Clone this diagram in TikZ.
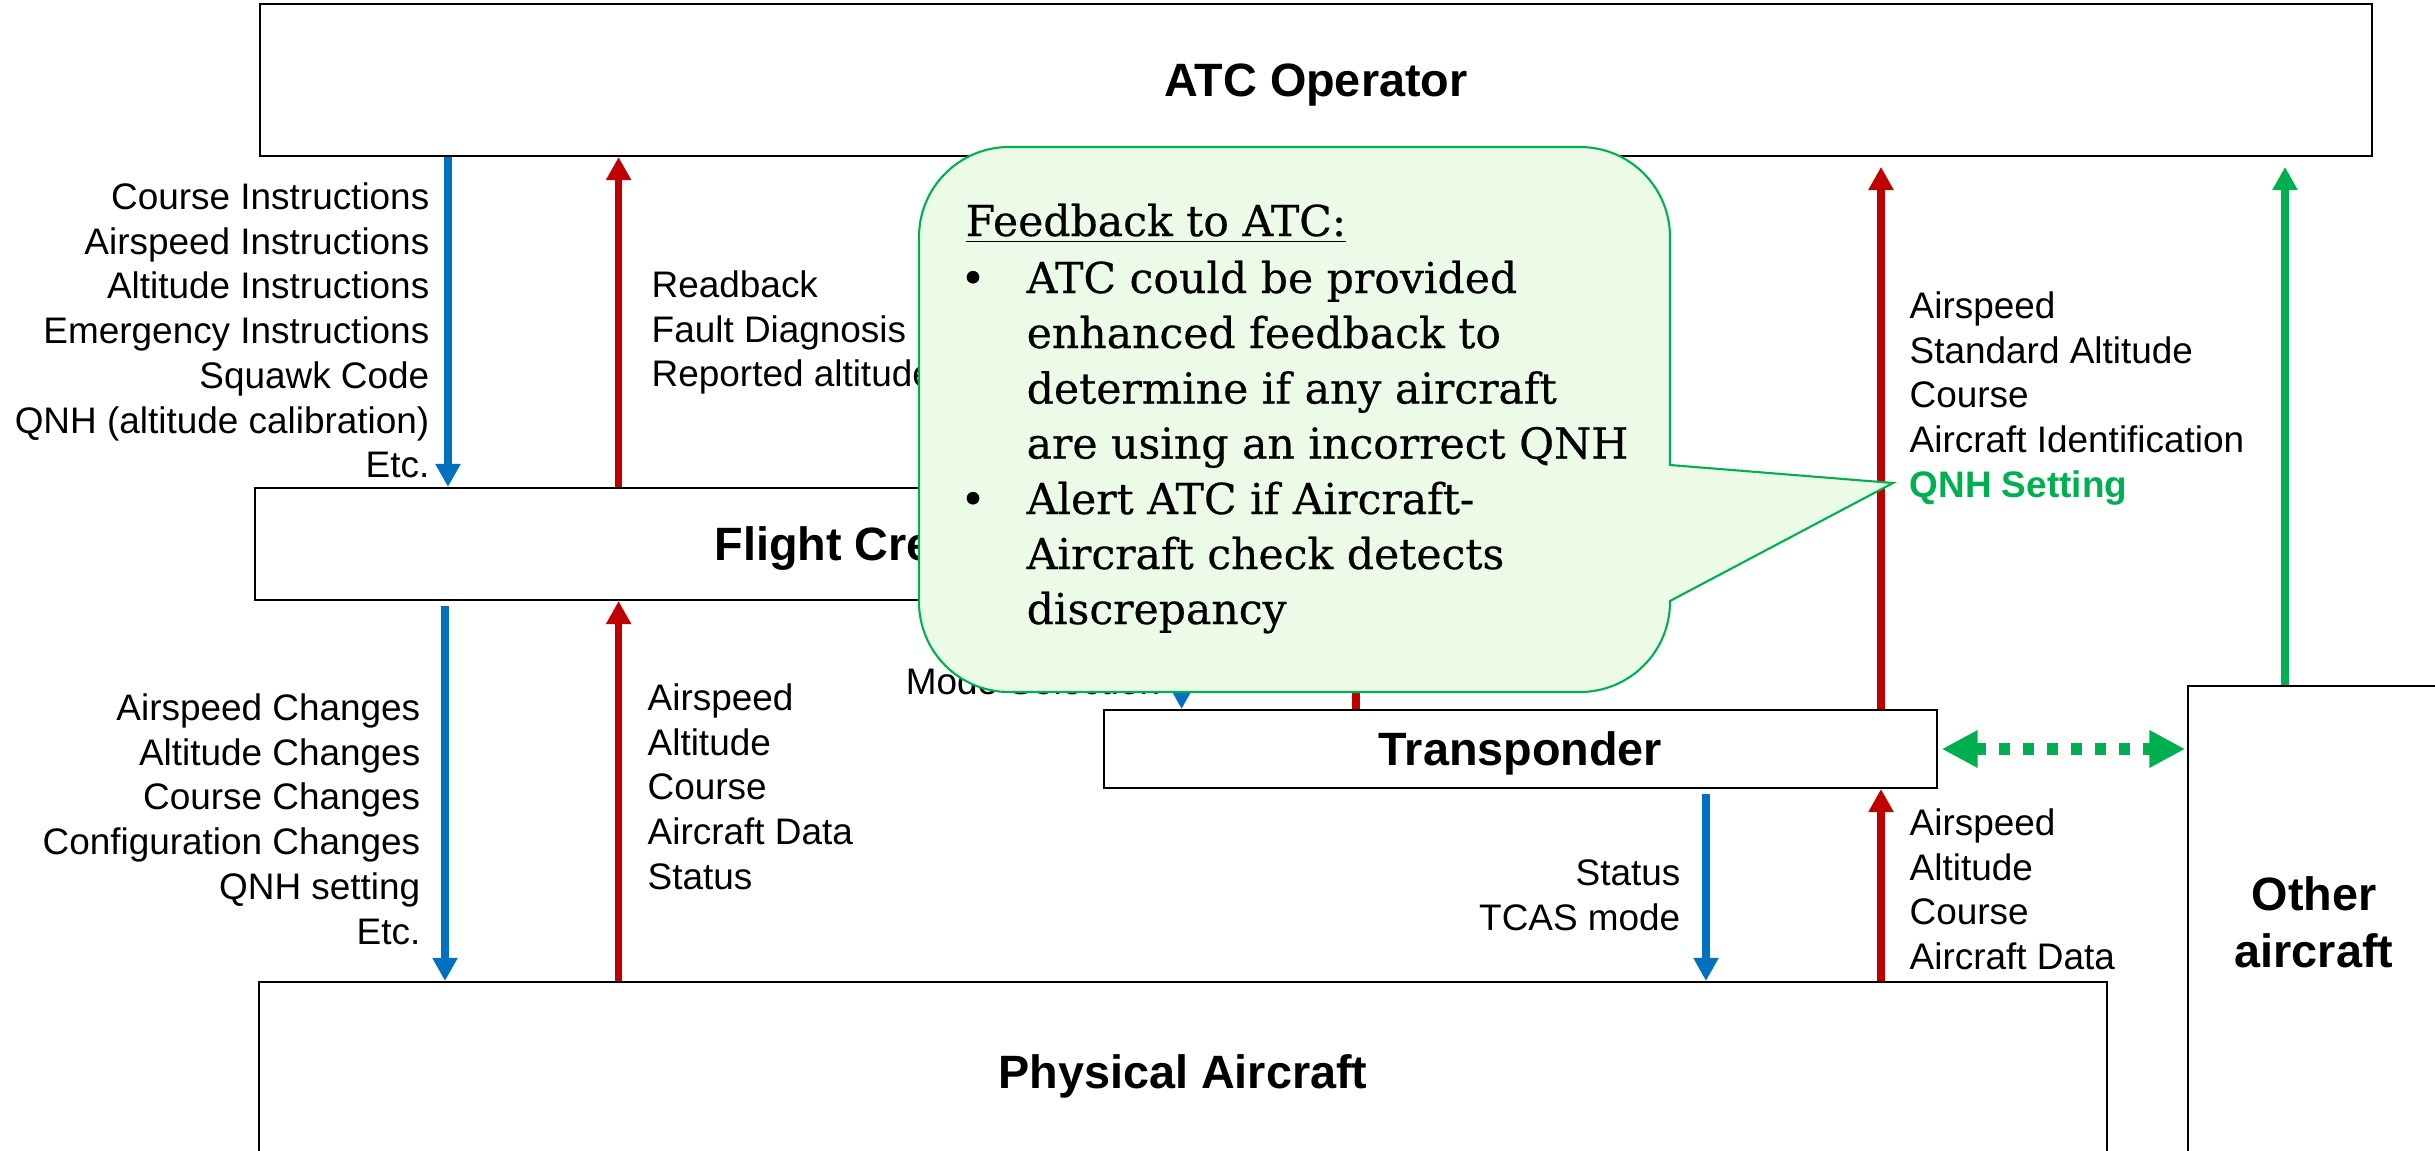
\documentclass[tikz,border=0pt]{standalone}
\usepackage{fontspec}
\setmainfont{Liberation Sans}
\newfontfamily\calloutfont[FakeBold=0.5]{DejaVu Serif}
\usetikzlibrary{arrows.meta}
\definecolor{cblue}{RGB}{0,112,192}
\definecolor{cred}{RGB}{192,0,0}
\definecolor{cgreen}{RGB}{0,176,80}
\definecolor{cfill}{RGB}{235,251,232}
\begin{document}
\begin{tikzpicture}[x=0.01cm,y=-0.01cm,
  box/.style={draw=black, line width=0.55pt, fill=white, inner sep=0pt,
    font=\fontsize{13.3pt}{16.2pt}\selectfont\bfseries, align=center},
  onebox/.style={box, text height=9.6pt, text depth=0pt},
  lbl/.style={inner sep=0pt, font=\fontsize{10.5pt}{12.72pt}\selectfont},
  flow/.style={line width=2.1pt, -{Triangle[length=6.6pt,width=6.8pt]}},
  ctext/.style={inner sep=0pt, font=\calloutfont\fontsize{12.1pt}{16pt}\selectfont}]
\useasboundingbox (0,0) rectangle (2435,1151);
\clip (0,0) rectangle (2435,1151);

% boxes
\node[onebox, minimum width=21.10cm, minimum height=1.52cm] (atc) at (1316,80) {ATC Operator};
\node[onebox, minimum width=11.74cm, minimum height=1.12cm] (fc) at (842,544) {Flight Crew};
\node[onebox, minimum width=8.33cm, minimum height=0.78cm] (tr) at (1520.5,749) {Transponder};
\node[box, minimum width=2.52cm, minimum height=4.72cm] (oa) at (2314,922) {Other\\aircraft};
\node[onebox, minimum width=18.475cm, minimum height=1.80cm] (pa) at (1183,1072) {Physical Aircraft};

% arrow columns
\coordinate (c1) at (448,0);
\coordinate (c2) at (618.6,0);
\coordinate (c3) at (1181.6,0);
\coordinate (c4) at (1356,0);
\coordinate (c5) at (1881,0);
\coordinate (c6) at (2285,0);
\coordinate (c7) at (445,0);
\coordinate (c8) at (1706,0);

\draw[flow, cblue] (atc.south -| c1) -- (fc.north -| c1);
\draw[flow, cred] (fc.north -| c2) -- (atc.south -| c2);
\draw[flow, cblue, shorten <=1.5pt] (fc.south -| c7) -- (pa.north -| c7);
\draw[flow, cred] (pa.north -| c2) -- (fc.south -| c2);
\draw[flow, cblue] (fc.south -| c3) -- (tr.north -| c3);
\draw[flow, cred] (tr.north -| c4) -- (fc.south -| c4);
\draw[flow, cred, shorten >=2.8pt] (tr.north -| c5) -- (atc.south -| c5);
\draw[flow, cgreen, shorten >=2.8pt] (oa.north -| c6) -- (atc.south -| c6);
\draw[flow, cred] (pa.north -| c5) -- (tr.south -| c5);
\draw[flow, cblue, shorten <=1.5pt] (tr.south -| c8) -- (pa.north -| c8);
\draw[cgreen, line width=3.3pt, dash pattern=on 3.1pt off 3.7pt,
  {Triangle[length=10.2pt,width=10pt]}-{Triangle[length=10.2pt,width=10pt]},
  shorten <=1pt, shorten >=0.5pt] (tr.east) -- (tr.east -| oa.west);

% labels
\node[lbl, align=right, anchor=north east] (la) at (430,182) {Course Instructions\\Airspeed Instructions\\Altitude Instructions\\Emergency Instructions\\Squawk Code\\QNH (altitude calibration)\\Etc.};
\node[lbl, align=left, anchor=north west] (lb) at (651,270) {Readback\\Fault Diagnosis\\Reported altitude};
\node[lbl, align=right, anchor=north east] (lc) at (421,693) {Airspeed Changes\\Altitude Changes\\Course Changes\\Configuration Changes\\QNH setting\\Etc.};
\node[lbl, align=left, anchor=north west] (ld) at (647,683) {Airspeed\\Altitude\\Course\\Aircraft Data\\Status};
\node[lbl, anchor=north east] (le) at (1161,667) {Mode Selection};
\node[lbl, align=left, anchor=north west] (lf) at (1909,291) {Airspeed\\Standard Altitude\\Course\\Aircraft Identification\\\textcolor{cgreen}{\bfseries QNH Setting}};
\node[lbl, align=right, anchor=north east] (lg) at (1681,859) {Status\\TCAS mode};
\node[lbl, align=left, anchor=north west] (lh) at (1909,808) {Airspeed\\Altitude\\Course\\Aircraft Data};

% callout
\draw[cgreen, fill=cfill, line width=0.6pt]
  (1009,147) -- (1580,147) .. controls (1629.7,147) and (1670,187.3) .. (1670,237)
  -- (1670,465) -- (1893,483) -- (1670,601) -- (1670,602)
  .. controls (1670,651.7) and (1629.7,692) .. (1580,692)
  -- (1009,692) .. controls (959.3,692) and (919,651.7) .. (919,602)
  -- (919,237) .. controls (919,187.3) and (959.3,147) .. (1009,147) -- cycle;

\node[ctext, anchor=base west] (ch) at (965,236) {\underline{Feedback to ATC:}};
\node[ctext, anchor=base] (bu1) at (973,293) {•};
\node[ctext, anchor=base west] (t1) at (1026,293) {ATC could be provided};
\node[ctext, anchor=base west] (t2) at (1026,348) {enhanced feedback to};
\node[ctext, anchor=base west] (t3) at (1026,403.5) {determine if any aircraft};
\node[ctext, anchor=base west] (t4) at (1026,458.5) {are using an incorrect QNH};
\node[ctext, anchor=base] (bu2) at (973,514) {•};
\node[ctext, anchor=base west] (t5) at (1026,514) {Alert ATC if Aircraft-};
\node[ctext, anchor=base west] (t6) at (1026,569) {Aircraft check detects};
\node[ctext, anchor=base west] (t7) at (1026,624) {discrepancy};
\end{tikzpicture}
\end{document}
